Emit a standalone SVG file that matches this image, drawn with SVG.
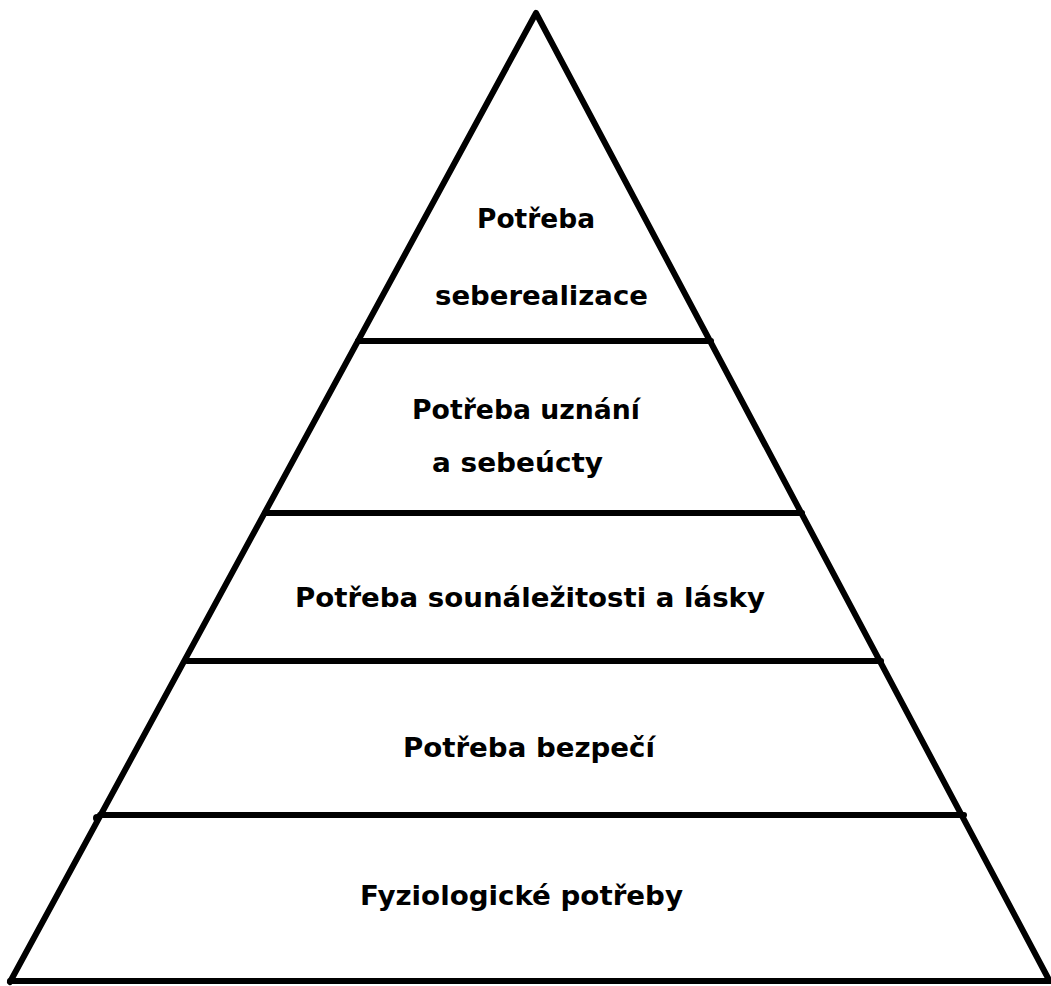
<svg xmlns="http://www.w3.org/2000/svg" width="1051" height="986" viewBox="0 0 1051 986">
<style>
.ln{stroke:#000;stroke-width:6;fill:none;stroke-linecap:round;stroke-linejoin:round}
.t{font-family:"DejaVu Sans","Liberation Sans",Arial,sans-serif;font-weight:bold;font-size:26px;fill:#000}
</style>
<rect width="1051" height="986" fill="#fff"/>
<g id="connectors">
<path class="ln" d="M10,982 L536,13 L1048,978"/>
<line class="ln" x1="10" y1="981" x2="1051" y2="981"/>
<line class="ln" x1="358" y1="341" x2="711" y2="341"/>
<line class="ln" x1="265" y1="513" x2="802" y2="513"/>
<line class="ln" x1="187" y1="661" x2="881" y2="661"/>
<line class="ln" x1="100" y1="815" x2="964" y2="815"/>
<circle cx="97" cy="818" r="4" fill="#000"/>
</g>
<g id="level5"><text class="t" x="477" y="228" textLength="118" lengthAdjust="spacingAndGlyphs">Potřeba</text><text class="t" x="435" y="305" textLength="213" lengthAdjust="spacingAndGlyphs">seberealizace</text></g>
<g id="level4"><text class="t" x="412" y="419" textLength="228" lengthAdjust="spacingAndGlyphs">Potřeba uznání</text><text class="t" x="432" y="472" textLength="171" lengthAdjust="spacingAndGlyphs">a sebeúcty</text></g>
<g id="level3"><text class="t" x="295" y="607" textLength="470" lengthAdjust="spacingAndGlyphs">Potřeba sounáležitosti a lásky</text></g>
<g id="level2"><text class="t" x="403" y="757" textLength="252" lengthAdjust="spacingAndGlyphs">Potřeba bezpečí</text></g>
<g id="level1"><text class="t" x="360" y="905" textLength="323" lengthAdjust="spacingAndGlyphs">Fyziologické potřeby</text></g>
</svg>
